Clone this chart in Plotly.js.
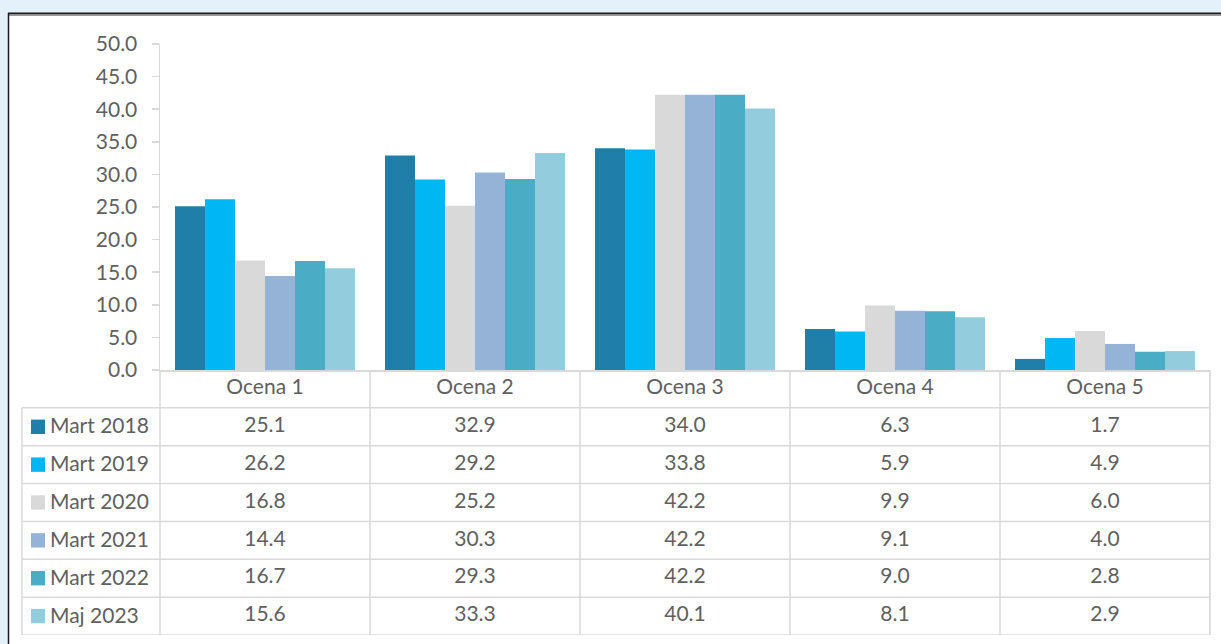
<!DOCTYPE html>
<html>
<head>
<meta charset="utf-8">
<script src="https://cdn.plot.ly/plotly-3.0.1.min.js"></script>
<style>html,body{margin:0;padding:0;background:#e4f0fa;}#chart{width:1221px;height:644px;}</style>
</head>
<body>
<div id="chart"></div>
<script>
const categories = ["Ocena 1", "Ocena 2", "Ocena 3", "Ocena 4", "Ocena 5"];
const seriesNames = ["Mart 2018", "Mart 2019", "Mart 2020", "Mart 2021", "Mart 2022", "Maj 2023"];
const mart2018 = [25.1, 32.9, 34.0, 6.3, 1.7];
const mart2019 = [26.2, 29.2, 33.8, 5.9, 4.9];
const mart2020 = [16.8, 25.2, 42.2, 9.9, 6.0];
const mart2021 = [14.4, 30.3, 42.2, 9.1, 4.0];
const mart2022 = [16.7, 29.3, 42.2, 9.0, 2.8];
const maj2023  = [15.6, 33.3, 40.1, 8.1, 2.9];
const yTicks = [0, 5, 10, 15, 20, 25, 30, 35, 40, 45, 50];

const seriesValues = [mart2018, mart2019, mart2020, mart2021, mart2022, maj2023];
const colors = ["#1f7fa8", "#00b7f4", "#d9d9d9", "#95b3d7", "#4bacc6", "#93cddd"];

const W = 1221, H = 644;
const L = 160, R = 11, T = 44, B = 9;
const pw = W - L - R, ph = H - T - B;
const px = v => (v - L) / pw;          // pixel x -> paper x
const py = v => (H - B - v) / ph;      // pixel y -> paper y
const axisY = 370;
const split = py(axisY);
const nRows = seriesNames.length + 1;
const gridColor = "#d9d9d9";
const textColor = "#606060";
const FONT = "Lato, 'Open Sans', sans-serif";
const FS = 21;

const traces = seriesNames.map((n, i) => ({
  type: "bar", name: n, x: categories, y: seriesValues[i],
  marker: {color: colors[i], line: {width: 0}},
  xaxis: "x", yaxis: "y", showlegend: false, hoverinfo: "x+y+name"
}));

// table header
traces.push({
  type: "scatter", mode: "text", x: categories, y: categories.map(() => 0.5),
  text: categories, textfont: {family: FONT, size: FS, color: textColor},
  xaxis: "x", yaxis: "y2", showlegend: false, hoverinfo: "skip", cliponaxis: false
});
// table values
seriesNames.forEach((n, i) => {
  traces.push({
    type: "scatter", mode: "text", x: categories, y: categories.map(() => i + 1.5),
    text: seriesValues[i].map(v => v.toFixed(1)),
    textfont: {family: FONT, size: FS, color: textColor},
    xaxis: "x", yaxis: "y2", showlegend: false, hoverinfo: "skip", cliponaxis: false
  });
});

const shapes = [];
// white chart box + border
shapes.push({type: "rect", xref: "paper", yref: "paper", x0: px(9), x1: px(1230), y0: py(14), y1: py(650),
  fillcolor: "#ffffff", line: {width: 0}, layer: "below"});
shapes.push({type: "line", xref: "paper", yref: "paper", x0: px(8), x1: px(1230), y0: py(13.5), y1: py(13.5),
  line: {color: "#1a1a1a", width: 2}, layer: "below"});
shapes.push({type: "line", xref: "paper", yref: "paper", x0: px(8), x1: px(1230), y0: py(15.5), y1: py(15.5),
  line: {color: "#9a9a9a", width: 1}, layer: "below"});
shapes.push({type: "line", xref: "paper", yref: "paper", x0: px(8.5), x1: px(8.5), y0: py(13), y1: py(650),
  line: {color: "#1a1a1a", width: 1.5}, layer: "below"});

// table horizontal lines
for (let r = 1; r <= nRows; r++) {
  shapes.push({type: "line", xref: "paper", yref: "y2", x0: px(22), x1: 1, y0: r, y1: r,
    line: {color: gridColor, width: 1.5}});
}
// vertical lines
shapes.push({type: "line", xref: "paper", yref: "y2", x0: 0, x1: 0, y0: 0, y1: nRows, line: {color: gridColor, width: 1.5}});
shapes.push({type: "line", xref: "paper", yref: "y2", x0: px(22), x1: px(22), y0: 1, y1: nRows, line: {color: gridColor, width: 1.5}});
for (let c = 0; c < categories.length; c++) {
  shapes.push({type: "line", xref: "x", yref: "y2", x0: c + 0.5, x1: c + 0.5, y0: 0, y1: nRows, line: {color: gridColor, width: 1.5}});
}
shapes.push({type: "line", xref: "paper", yref: "y2", x0: 1, x1: 1, y0: 0, y1: nRows, line: {color: gridColor, width: 1.5}});

// legend squares in label column
const annotations = [];
seriesNames.forEach((n, i) => {
  const yc = i + 1.5;
  shapes.push({type: "rect", xref: "paper", yref: "y2", x0: px(31), x1: px(45), y0: yc - 0.19, y1: yc + 0.19,
    fillcolor: colors[i], line: {width: 0}});
  annotations.push({xref: "paper", yref: "y2", x: px(48), y: yc, xanchor: "left", yanchor: "middle", yshift: 2,
    text: n, showarrow: false, font: {family: FONT, size: FS, color: textColor}});
});

const layout = {
  width: W, height: H,
  margin: {l: L, r: R, t: T, b: B, pad: 0},
  paper_bgcolor: "#e4f0fa", plot_bgcolor: "rgba(0,0,0,0)",
  barmode: "group", bargap: 30 / 210, bargroupgap: 0,
  xaxis: {domain: [0, 1], type: "category", range: [-0.5, 4.5], anchor: "y",
    showticklabels: false, ticks: "", showline: true, linecolor: gridColor, linewidth: 1.5,
    showgrid: false, zeroline: false, fixedrange: true},
  yaxis: {domain: [split, 1], range: [0, 50], tickvals: yTicks, ticktext: yTicks.map(v => v.toFixed(1)),
    showline: true, linecolor: gridColor, linewidth: 1.5, ticks: "outside", ticklen: 7, tickcolor: gridColor, tickwidth: 1.5,
    showgrid: false, zeroline: false, tickfont: {family: FONT, size: FS, color: textColor}, ticklabelstandoff: 10,
    fixedrange: true},
  yaxis2: {domain: [0, split], range: [nRows, 0], visible: false, anchor: "x", fixedrange: true},
  shapes: shapes, annotations: annotations,
  font: {family: FONT, color: textColor}
};

Plotly.newPlot("chart", traces, layout, {displayModeBar: false, staticPlot: true});
</script>
</body>
</html>
